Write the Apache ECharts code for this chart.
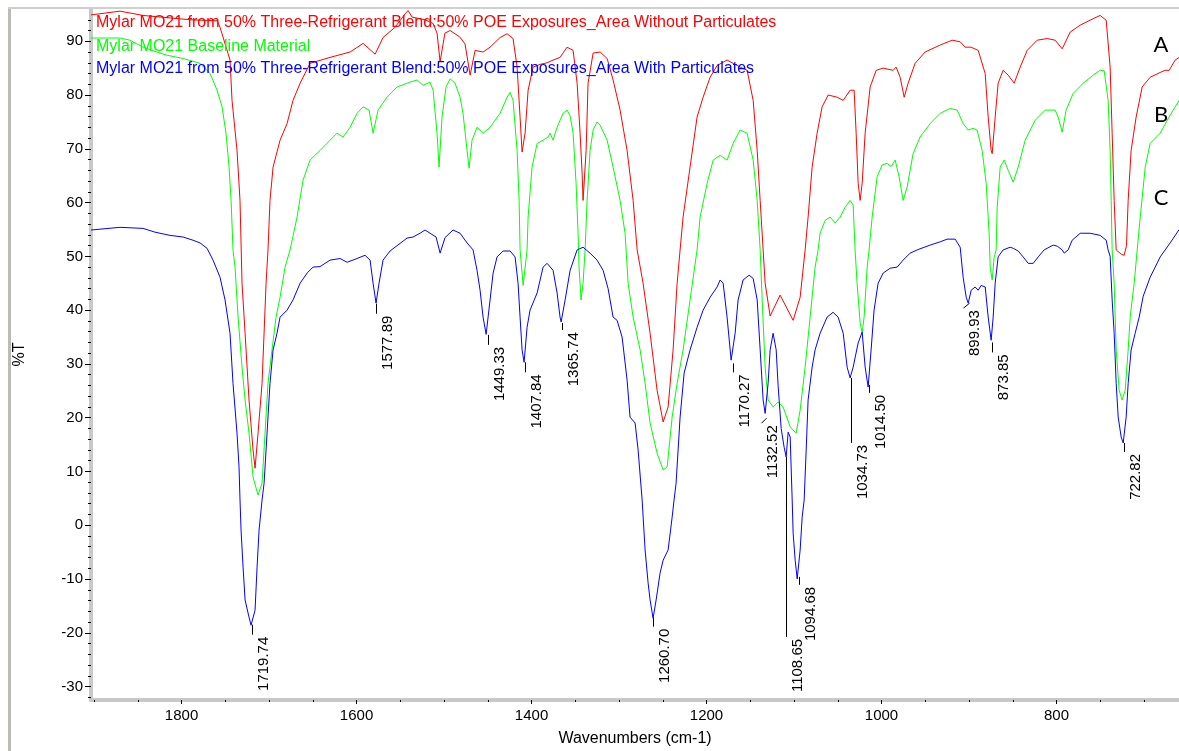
<!DOCTYPE html>
<html>
<head>
<meta charset="utf-8">
<title>Mylar MO21 FTIR</title>
<script src="https://cdn.jsdelivr.net/npm/echarts@6.0.0/dist/echarts.min.js"></script>
<style>
  html, body { margin: 0; padding: 0; background: #fff; }
  #chart { width: 1179px; height: 751px; }
</style>
</head>
<body>
<div id="chart"></div>
<script>
// spectra: [wavenumber, %T]
const curveA = [[1903.5,94.9],[1870.3,95.6],[1844.0,94.8],[1790.3,94.0],[1759.4,93.8],[1756.0,92.6],[1744.6,86.5],[1742.3,79.0],[1736.6,69.7],[1733.2,60.4],[1730.9,45.0],[1727.4,35.7],[1722.9,23.3],[1718.3,14.0],[1716.0,10.6],[1712.6,17.1],[1708.0,26.4],[1705.7,35.7],[1703.4,45.0],[1701.2,51.2],[1698.9,60.4],[1695.4,66.6],[1687.4,71.6],[1679.4,74.7],[1672.6,79.0],[1664.5,82.2],[1653.1,85.9],[1630.3,87.0],[1607.4,88.0],[1592.5,89.6],[1578.8,87.6],[1569.7,90.7],[1556.0,92.6],[1544.5,95.1],[1541.1,95.7],[1536.5,94.5],[1521.7,94.0],[1512.5,93.3],[1508.0,91.5],[1504.5,86.2],[1499.0,91.5],[1493.1,92.0],[1482.0,90.8],[1476.0,89.5],[1470.2,83.7],[1464.5,88.3],[1455.4,88.0],[1447.4,88.9],[1435.9,90.7],[1427.9,91.4],[1421.1,90.5],[1416.5,85.2],[1413.1,75.9],[1410.8,69.4],[1407.4,72.9],[1403.9,80.9],[1398.2,85.2],[1390.2,85.7],[1382.2,86.0],[1375.4,86.5],[1367.4,87.0],[1359.4,88.9],[1352.5,88.3],[1347.9,82.2],[1344.5,72.9],[1342.2,65.5],[1341.1,60.4],[1337.6,69.7],[1335.4,82.2],[1329.6,87.8],[1321.6,88.0],[1313.6,86.8],[1306.8,82.8],[1298.8,77.2],[1290.8,69.7],[1283.9,60.4],[1279.3,51.2],[1272.5,45.0],[1264.5,35.7],[1256.5,25.1],[1249.6,19.2],[1243.9,22.0],[1238.2,32.6],[1233.6,45.0],[1230.2,51.2],[1226.8,57.3],[1218.8,66.6],[1210.8,75.9],[1203.9,79.6],[1195.9,83.3],[1187.9,85.5],[1176.5,86.5],[1169.6,85.9],[1161.6,85.2],[1153.6,84.6],[1146.7,79.0],[1142.1,69.7],[1138.7,60.4],[1135.3,51.2],[1133.0,45.0],[1127.3,38.9],[1115.9,42.8],[1101.0,38.1],[1093.0,42.4],[1087.3,51.2],[1083.9,57.3],[1079.3,66.6],[1073.6,72.9],[1067.9,77.8],[1061.0,80.0],[1050.7,79.6],[1043.8,79.0],[1035.9,80.9],[1031.3,80.9],[1029.0,72.9],[1026.7,63.6],[1024.4,60.4],[1022.1,63.6],[1018.7,72.9],[1013.0,81.5],[1006.1,84.6],[998.1,85.0],[986.7,84.6],[983.3,85.2],[978.7,83.3],[974.1,79.6],[969.6,82.2],[961.6,85.9],[950.2,88.0],[932.9,89.3],[919.3,90.2],[910.1,89.9],[904.4,88.9],[897.6,88.9],[889.5,88.3],[881.5,84.0],[878.1,75.9],[874.7,69.7],[873.5,69.1],[870.1,75.9],[866.7,82.2],[861.0,84.6],[855.2,83.7],[848.4,82.2],[841.5,85.2],[833.5,88.3],[822.1,90.2],[810.6,90.5],[801.5,90.2],[793.5,88.6],[784.4,91.7],[772.9,93.0],[758.1,94.2],[750.1,94.8],[743.2,93.9],[738.7,85.2],[736.4,72.9],[734.1,60.4],[731.8,51.2],[726.0,50.4],[722.7,50.2],[720.0,52.0],[718.1,60.4],[714.7,69.7],[709.0,75.9],[702.1,81.5],[693.0,83.3],[681.5,84.2],[675.8,84.6],[671.2,84.6],[664.4,86.5],[659.8,87.0]]

const curveB = [[1903.5,90.6],[1870.3,90.6],[1858.9,90.2],[1844.0,88.9],[1824.6,87.8],[1816.6,87.4],[1798.3,86.8],[1778.9,85.9],[1767.4,84.0],[1759.4,80.9],[1753.7,77.8],[1749.2,72.9],[1745.7,66.6],[1743.4,60.4],[1741.2,51.2],[1738.9,48.0],[1735.4,38.7],[1730.9,29.4],[1727.4,23.3],[1722.9,17.1],[1718.3,9.0],[1712.6,5.6],[1708.0,7.8],[1704.6,17.1],[1701.2,26.4],[1696.6,32.6],[1692.0,38.7],[1687.4,42.4],[1681.7,48.0],[1676.0,51.2],[1668.0,57.3],[1661.1,64.2],[1653.1,67.9],[1641.7,69.7],[1630.3,71.6],[1622.3,72.9],[1615.4,72.2],[1607.4,74.0],[1599.4,76.6],[1592.5,77.8],[1585.7,77.2],[1581.1,72.9],[1575.4,77.2],[1565.1,79.6],[1553.7,81.5],[1538.8,82.4],[1530.8,82.8],[1524.0,81.8],[1516.0,82.4],[1512.5,80.9],[1508.0,72.9],[1505.7,66.6],[1502.3,75.9],[1497.7,81.5],[1493.1,83.0],[1487.4,82.2],[1481.7,79.6],[1478.3,76.6],[1473.7,69.7],[1471.4,66.4],[1468.0,71.6],[1462.3,74.0],[1455.4,72.9],[1447.4,74.0],[1435.9,76.6],[1427.9,79.6],[1424.5,80.5],[1421.1,79.0],[1416.5,69.7],[1414.2,60.4],[1413.1,51.2],[1409.6,44.6],[1405.1,51.2],[1403.9,57.3],[1399.4,66.6],[1393.6,71.0],[1386.8,71.6],[1381.1,72.2],[1378.8,72.9],[1375.4,71.6],[1370.8,74.0],[1364.0,76.6],[1359.4,77.2],[1356.0,76.2],[1352.5,72.9],[1349.1,63.6],[1346.8,54.3],[1345.7,48.0],[1343.4,41.9],[1341.1,45.0],[1338.8,51.2],[1336.5,60.4],[1333.1,69.7],[1329.6,73.5],[1325.1,75.0],[1321.6,74.4],[1313.6,71.6],[1306.8,66.6],[1298.8,60.4],[1293.1,54.3],[1289.6,45.0],[1283.9,38.7],[1275.9,32.6],[1270.2,26.4],[1264.5,19.0],[1256.5,13.4],[1249.6,10.3],[1245.0,10.8],[1239.3,20.1],[1233.6,26.4],[1226.8,32.6],[1218.8,41.9],[1210.8,51.2],[1207.3,57.3],[1199.3,63.6],[1192.4,67.9],[1184.5,68.8],[1176.5,67.9],[1169.6,71.0],[1161.6,73.5],[1153.6,72.9],[1146.7,67.9],[1142.1,60.4],[1138.7,51.2],[1136.4,41.9],[1133.0,29.4],[1129.6,23.3],[1123.9,22.0],[1118.2,22.9],[1112.5,22.0],[1104.4,18.3],[1097.6,17.1],[1093.0,21.4],[1087.3,29.4],[1081.6,38.7],[1075.9,48.0],[1072.5,51.2],[1070.2,54.3],[1064.4,56.7],[1058.7,57.3],[1053.0,56.2],[1047.3,57.3],[1041.6,59.1],[1035.9,60.4],[1032.4,59.5],[1030.2,51.2],[1027.9,45.0],[1024.4,37.6],[1022.1,35.7],[1019.9,38.7],[1016.4,48.0],[1014.2,51.2],[1010.7,57.3],[1005.0,64.8],[999.3,67.0],[993.6,67.3],[989.0,66.7],[984.4,67.9],[979.9,64.8],[975.3,60.4],[970.7,62.9],[963.9,69.1],[955.9,72.2],[944.4,74.7],[933.0,76.6],[921.6,77.5],[913.5,77.2],[906.7,74.7],[901.0,73.5],[895.3,73.8],[890.8,73.5],[885.0,69.7],[880.4,63.6],[877.0,54.3],[875.8,48.0],[873.5,45.6],[871.3,49.8],[869.0,51.2],[867.8,59.1],[864.4,66.6],[859.8,67.9],[855.2,66.0],[849.5,63.8],[843.8,66.6],[835.8,71.6],[824.4,75.3],[812.9,77.2],[801.5,77.2],[798.1,75.9],[793.5,73.1],[789.0,77.2],[781.0,80.3],[769.5,82.2],[758.1,83.7],[750.1,84.6],[745.5,84.5],[741.0,79.0],[738.7,69.7],[737.5,60.4],[736.4,51.2],[734.1,45.0],[731.8,32.6],[728.4,25.1],[725.0,23.3],[721.5,25.1],[718.1,32.6],[715.8,38.7],[711.2,45.0],[707.8,51.2],[704.3,57.3],[698.6,66.6],[693.0,71.0],[681.5,72.9],[673.5,75.3],[666.6,77.2],[659.8,79.0]]

const curveC = [[1903.5,54.9],[1870.3,55.4],[1844.0,55.2],[1830.3,54.5],[1813.2,53.9],[1798.3,53.6],[1786.9,53.0],[1778.9,52.5],[1770.9,51.5],[1764.0,49.3],[1756.0,46.1],[1750.3,41.9],[1744.6,35.7],[1741.2,26.4],[1736.6,17.1],[1734.3,10.8],[1733.2,4.7],[1732.0,-0.9],[1729.7,-7.8],[1727.4,-13.9],[1722.9,-17.1],[1720.6,-18.6],[1716.0,-15.8],[1713.7,-7.8],[1711.4,-0.9],[1708.0,4.7],[1705.7,7.8],[1703.4,14.0],[1698.9,26.4],[1695.4,32.6],[1690.9,35.7],[1687.4,38.7],[1679.4,40.0],[1672.6,41.9],[1664.5,45.0],[1656.5,46.9],[1649.7,48.0],[1641.7,48.1],[1630.3,49.3],[1618.8,49.6],[1610.8,48.9],[1599.4,49.6],[1590.3,50.2],[1584.5,49.3],[1581.1,45.0],[1577.7,41.3],[1574.3,45.0],[1569.7,49.3],[1561.7,51.0],[1542.3,53.4],[1535.4,53.6],[1527.4,54.3],[1521.7,54.9],[1516.0,54.3],[1509.1,53.6],[1504.5,50.6],[1498.8,53.5],[1489.7,54.9],[1481.7,54.3],[1473.7,52.5],[1466.8,51.2],[1462.3,47.4],[1458.8,43.7],[1455.4,38.7],[1451.9,35.5],[1447.4,41.9],[1443.9,46.9],[1439.4,49.9],[1432.5,51.0],[1424.5,51.0],[1418.8,49.9],[1415.4,45.0],[1413.1,38.7],[1410.8,32.6],[1408.5,30.3],[1405.1,36.8],[1401.7,40.0],[1393.6,43.2],[1386.8,48.0],[1382.2,48.7],[1375.4,47.4],[1370.8,43.2],[1367.4,38.7],[1366.2,37.8],[1361.6,41.9],[1355.9,47.4],[1347.9,51.2],[1341.1,51.7],[1333.1,50.6],[1325.1,49.3],[1318.2,47.4],[1312.5,44.0],[1306.8,38.7],[1302.2,38.1],[1296.5,35.0],[1290.8,27.0],[1287.4,20.1],[1281.6,19.0],[1278.2,14.0],[1273.6,4.7],[1270.2,-4.6],[1266.8,-10.7],[1264.5,-13.9],[1261.1,-17.3],[1257.6,-13.9],[1253.1,-8.9],[1249.6,-6.5],[1243.9,-4.6],[1239.3,1.5],[1237.1,4.7],[1234.8,7.8],[1230.2,20.1],[1225.6,28.3],[1218.8,32.6],[1210.8,36.8],[1203.9,40.0],[1195.9,42.4],[1187.9,44.3],[1184.5,45.6],[1181.0,45.0],[1176.5,38.7],[1171.9,30.7],[1167.3,35.7],[1163.9,41.9],[1158.2,45.6],[1151.3,46.5],[1146.7,45.9],[1142.1,41.9],[1138.7,32.6],[1135.3,23.3],[1133.0,20.8],[1129.6,26.4],[1127.3,32.6],[1123.9,35.7],[1120.4,32.6],[1118.2,26.0],[1114.7,18.0],[1111.3,14.5],[1109.0,12.7],[1106.7,17.3],[1104.4,16.4],[1102.1,4.7],[1101.0,-1.5],[1098.7,-6.5],[1096.4,-10.0],[1093.0,-4.6],[1090.7,1.5],[1088.4,4.7],[1086.1,14.0],[1083.9,23.3],[1079.3,29.4],[1075.9,32.6],[1070.2,35.7],[1062.2,38.7],[1055.3,39.6],[1049.6,38.7],[1043.8,35.7],[1039.3,29.4],[1035.9,27.4],[1032.4,29.4],[1026.7,33.9],[1022.1,35.9],[1018.7,29.4],[1015.3,25.7],[1011.9,32.6],[1008.5,40.0],[1003.9,45.0],[998.1,46.9],[990.1,47.8],[982.1,48.0],[975.3,49.3],[967.3,50.6],[959.3,51.2],[944.4,52.1],[933.0,52.7],[925.0,53.2],[915.8,53.2],[910.1,51.7],[906.7,46.1],[903.2,42.4],[900.9,41.3],[897.5,43.7],[893.0,44.3],[889.5,43.7],[886.1,44.6],[881.5,44.3],[878.1,38.7],[874.7,34.4],[872.4,38.7],[870.1,45.0],[866.7,49.9],[861.0,51.2],[853.0,51.7],[849.5,51.5],[843.8,51.0],[838.1,49.9],[832.4,48.7],[826.6,48.7],[820.9,49.9],[814.1,51.2],[803.8,52.1],[799.2,51.9],[793.5,51.2],[791.2,50.6],[786.7,51.2],[782.1,53.0],[772.9,54.3],[761.5,54.3],[750.1,53.9],[743.2,53.0],[741.0,51.2],[738.7,50.0],[736.4,41.9],[734.1,35.7],[731.8,26.4],[729.5,20.1],[726.1,16.4],[723.8,15.3],[720.4,20.1],[718.1,26.4],[714.7,32.6],[710.1,35.7],[705.5,38.7],[700.9,42.6],[693.0,46.1],[681.5,49.9],[670.1,52.5],[659.8,55.0]]

const seriesNames = [
  'Mylar MO21 from 50% Three-Refrigerant Blend:50% POE Exposures_Area Without Particulates',
  'Mylar MO21 Baseline Material',
  'Mylar MO21 from 50% Three-Refrigerant Blend:50% POE Exposures_Area With Particulates'
]
const curveTags = ['A', 'B', 'C']

// peak picks on curve C
const peakWn = [1719.74, 1577.89, 1449.33, 1407.84, 1365.74, 1260.70, 1170.27, 1132.52, 1108.65, 1094.68, 1034.73, 1014.50, 899.93, 873.85, 722.82]
const peakT = [-18.5, 41.2, 35.4, 30.3, 37.6, -17.2, 30.1, 19.9, 12.7, -9.6, 27.4, 26.1, 41.3, 34.0, 15.3]

const xTickLabels = [800, 1000, 1200, 1400, 1600, 1800]
const yTickLabels = [-30, -20, -10, 0, 10, 20, 30, 40, 50, 60, 70, 80, 90]

// leader line look (px)
const leaderLen = [10, 10, 10, 10, 7, 9, 9, 5, 180, 8, 65, 8, 5, 10, 9]
const leaderDx = [0, 0, 0, 0, 0, 0, 0, -5, 0, 0, 0, 0, -6, 0, 0]

const colors = ['#ff0000', '#00ff00', '#0000ff']
const FONT = '"Liberation Sans", Arial, sans-serif'

const xMinorTicks = []
for (let v = 700; v <= 1900; v += 50) xMinorTicks.push(v)
const yMinorTicks = []
for (let v = -32; v <= 94; v += 2) yMinorTicks.push(v)

const X_MIN = 660
const X_MAX = 1903.5
const Y_MIN = -32.5
const Y_MAX = 96

const myChart = echarts.init(document.getElementById('chart'), null, { renderer: 'canvas' })

const lineSeries = [curveA, curveB, curveC].map((d, i) => ({
  type: 'line',
  name: seriesNames[i],
  data: d,
  xAxisIndex: 0,
  yAxisIndex: 0,
  symbol: 'none',
  showSymbol: false,
  silent: true,
  lineStyle: { color: colors[i], width: 1 },
  itemStyle: { color: colors[i] },
  z: 2 + i
}))

const option = {
  animation: false,
  backgroundColor: '#fff',
  grid: {
    left: 91,
    right: 0,
    top: 9,
    bottom: 51,
    containLabel: false,
    outerBoundsMode: 'none'
  },
  xAxis: [
    {
      type: 'value',
      min: X_MIN,
      max: X_MAX,
      inverse: true,
      name: 'Wavenumbers (cm-1)',
      nameLocation: 'middle',
      nameGap: 31,
      nameTextStyle: { color: '#000', fontSize: 16, fontFamily: FONT },
      axisLine: { show: true, onZero: false, lineStyle: { color: '#c8c8c8', width: 4 } },
      axisTick: { show: true, customValues: xTickLabels, length: 4, lineStyle: { color: '#000', width: 1 } },
      axisLabel: {
        customValues: xTickLabels,
        formatter: (v) => String(v),
        color: '#000',
        fontSize: 15,
        fontFamily: FONT,
        margin: 8
      },
      splitLine: { show: false }
    },
    {
      type: 'value',
      position: 'bottom',
      min: X_MIN,
      max: X_MAX,
      inverse: true,
      axisLine: { show: false, onZero: false },
      axisTick: { show: true, customValues: xMinorTicks, length: 2, lineStyle: { color: '#000', width: 1 } },
      axisLabel: { show: false },
      splitLine: { show: false }
    }
  ],
  yAxis: [
    {
      type: 'value',
      min: Y_MIN,
      max: Y_MAX,
      name: '%T',
      nameLocation: 'middle',
      nameGap: 63,
      nameRotate: 90,
      nameTextStyle: { color: '#000', fontSize: 16, fontFamily: FONT },
      axisLine: { show: true, onZero: false, lineStyle: { color: '#c8c8c8', width: 4 } },
      axisTick: { show: true, customValues: yTickLabels, length: 6, lineStyle: { color: '#000', width: 1 } },
      axisLabel: {
        customValues: yTickLabels,
        formatter: (v) => String(v),
        color: '#000',
        fontSize: 15,
        fontFamily: FONT,
        margin: 8
      },
      splitLine: { show: false }
    },
    {
      type: 'value',
      position: 'left',
      min: Y_MIN,
      max: Y_MAX,
      axisLine: { show: false, onZero: false },
      axisTick: { show: true, customValues: yMinorTicks, length: 3, lineStyle: { color: '#000', width: 1 } },
      axisLabel: { show: false },
      splitLine: { show: false }
    }
  ],
  series: lineSeries.concat([
    {
      type: 'custom',
      name: 'peaks',
      xAxisIndex: 0,
      yAxisIndex: 0,
      silent: true,
      clip: false,
      z: 20,
      data: peakWn.map((w, i) => [w, peakT[i]]),
      renderItem: function (params, api) {
        const i = params.dataIndex
        const p = api.coord([api.value(0), api.value(1)])
        const x1 = Math.round(p[0]) + 0.5
        const y1 = p[1]
        const x2 = x1 + leaderDx[i]
        const y2 = y1 + leaderLen[i]
        return {
          type: 'group',
          children: [
            {
              type: 'line',
              shape: { x1: x1, y1: y1, x2: x2, y2: y2 },
              style: { stroke: '#000', lineWidth: 1 }
            },
            {
              type: 'text',
              x: x2 + 11,
              y: y2 + 2,
              rotation: Math.PI / 2,
              style: {
                text: peakWn[i].toFixed(2),
                fill: '#000',
                font: '15px ' + FONT,
                align: 'right',
                verticalAlign: 'middle',
                textAlign: 'right',
                textVerticalAlign: 'middle'
              }
            }
          ]
        }
      }
    }
  ]),
  graphic: [
    // window frame
    { type: 'rect', left: 8, top: 8, shape: { width: 3, height: 743 }, style: { fill: '#bcbcb4' }, z: 50 },
    { type: 'rect', left: 8, top: 7, shape: { width: 1171, height: 2 }, style: { fill: '#cfcfcf' }, z: 50 }
  ].concat(seriesNames.map((name, i) => ({
    type: 'text',
    x: 96,
    y: [23, 46.5, 69][i],
    z: 60,
    style: {
      text: name,
      fill: colors[i],
      font: '16px ' + FONT,
      align: 'left',
      verticalAlign: 'middle',
      textAlign: 'left',
      textVerticalAlign: 'middle'
    }
  }))).concat(curveTags.map((tag, i) => ({
    type: 'text',
    x: 1161,
    y: [45, 115, 198][i],
    z: 60,
    style: {
      text: tag,
      fill: '#000',
      font: '22px Lato, "Open Sans", sans-serif',
      align: 'center',
      verticalAlign: 'middle',
      textAlign: 'center',
      textVerticalAlign: 'middle'
    }
  })))
}

myChart.setOption(option)
</script>
</body>
</html>
